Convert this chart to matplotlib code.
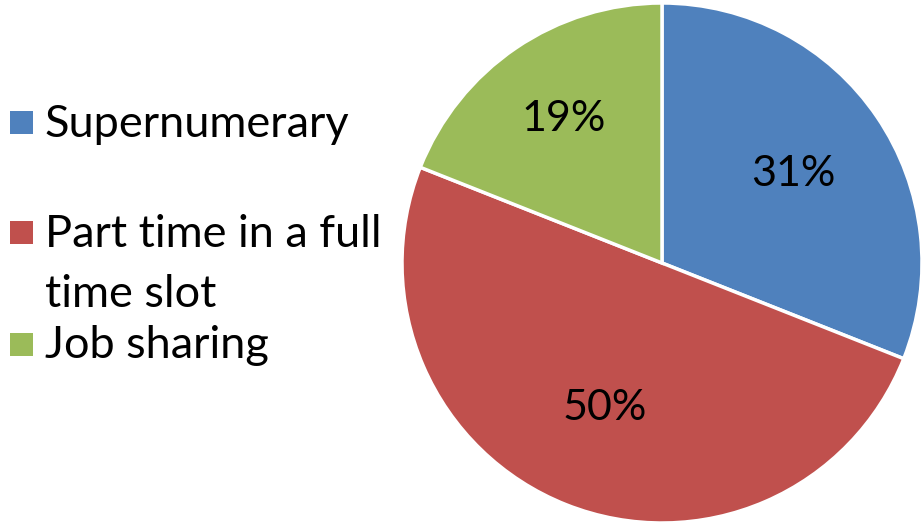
import matplotlib
matplotlib.use("Agg")
import numpy as np
import matplotlib.pyplot as plt
from matplotlib.patches import Rectangle

# Placement type shares
labels = ["Supernumerary", "Part time in a full\ntime slot", "Job sharing"]
shares = [31, 50, 19]
colors = ["#4F81BD", "#C0504D", "#9BBB59"]

plt.rcParams['font.family'] = ['Lato', 'DejaVu Sans']

W, H = 923, 527
fig = plt.figure(figsize=(W / 100, H / 100), dpi=100)
ax = fig.add_axes([402 / W, 4 / H, 520 / W, 520 / H])

wedges, texts = ax.pie(
    shares, colors=colors, startangle=90, counterclock=False,
    wedgeprops=dict(edgecolor='white', linewidth=2.5))
ax.set_xlim(-1.0, 1.0)
ax.set_ylim(-1.0, 1.0)
ax.set_aspect('equal')

# percentage labels at the middle angle of each wedge
label_dist = [0.61, 0.60, 0.67]
total = sum(shares)
for wedge, val, d in zip(wedges, shares, label_dist):
    ang = np.deg2rad((wedge.theta1 + wedge.theta2) / 2)
    ax.text(d * np.cos(ang), d * np.sin(ang), f"{100 * val / total:.0f}%",
            ha='center', va='center', fontsize=31, color='black')

# legend drawn by hand: square key + label, baselines in pixels from top
baselines = [137, 247, 358]
line_step = 60
box = 23
for wedge, label, base in zip(wedges, labels, baselines):
    yc = base - 14
    fig.patches.append(Rectangle((10 / W, 1 - (yc + box / 2) / H), box / W, box / H,
                                 transform=fig.transFigure,
                                 facecolor=wedge.get_facecolor(), edgecolor='none'))
    for i, line in enumerate(label.split("\n")):
        fig.text(45 / W, 1 - (base + i * line_step) / H, line,
                 fontsize=32.5, va='baseline', ha='left', color='black')

fig.savefig("out.png", dpi=100)
